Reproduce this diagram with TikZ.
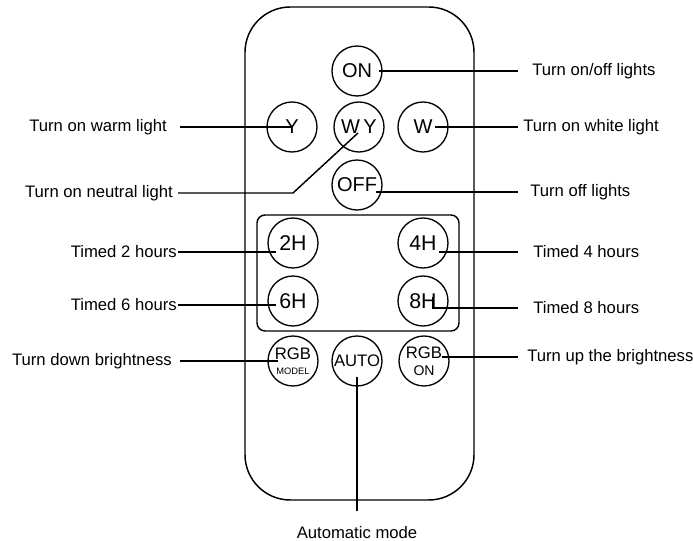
\documentclass[tikz,border=0pt]{standalone}
\usepackage{fontspec}
\setmainfont{Liberation Sans}
\usetikzlibrary{calc}

\begin{document}
\begin{tikzpicture}[x=0.75pt, y=-0.75pt,
    btn/.style={draw, circle, line width=1pt, minimum size=37.5pt, inner sep=0pt, align=center, font=\fontsize{15}{15}\selectfont},
    lbl/.style={inner sep=0pt, font=\fontsize{12.5}{14}\selectfont},
    lead/.style={line width=1.1pt},
]
\useasboundingbox (0,0) rectangle (693,541);

% Remote body and timer group
\draw[line width=1.1pt, rounded corners=34pt] (245,7) rectangle (474,500);
\draw[line width=1.1pt, rounded corners=6pt] (257,215) rectangle (459,331);

% Buttons
\node[btn] (on) at (357,71) {ON};
\node[btn] (y) at (292,127) {Y};
\node[btn] (wy) at (359,127) {W\,Y};
\node[btn] (w) at (423,127) {W};
\node[btn] (off) at (357,185) {OFF};
\node[btn, font=\fontsize{16}{16}\selectfont] (h2) at (293,243) {2H};
\node[btn, font=\fontsize{16}{16}\selectfont] (h4) at (423,243) {4H};
\node[btn, font=\fontsize{16}{16}\selectfont] (h6) at (293,301) {6H};
\node[btn, font=\fontsize{16}{16}\selectfont] (h8) at (423,301) {8H};
\node[btn, font=\fontsize{12.5}{10}\selectfont] (rgbm) at (293,361) {RGB\\[1pt]{\fontsize{7}{7}\selectfont MODEL}};
\node[btn, font=\fontsize{12.5}{12}\selectfont] (auto) at (357,361) {AUTO};
\node[btn, font=\fontsize{12.5}{10}\selectfont] (rgbon) at (424,361) {RGB\\[3pt]{\fontsize{10.5}{10}\selectfont ON}};

% Left labels
\node[lbl, anchor=east] (lwarm) at (167,127) {Turn on warm light};
\node[lbl, anchor=east] (lneutral) at (173,193) {Turn on neutral light};
\node[lbl, anchor=east] (l2) at (177,252) {Timed 2 hours};
\node[lbl, anchor=east] (l6) at (177,305) {Timed 6 hours};
\node[lbl, anchor=east] (ldown) at (172,361) {Turn down brightness};

% Right labels
\node[lbl, anchor=west] (lon) at (532,71) {Turn on/off lights};
\node[lbl, anchor=west] (lwhite) at (523,127) {Turn on white light};
\node[lbl, anchor=west] (loff) at (530,192) {Turn off lights};
\node[lbl, anchor=west] (l4) at (533,252) {Timed 4 hours};
\node[lbl, anchor=west] (l8) at (533,308) {Timed 8 hours};
\node[lbl, anchor=west] (lup) at (527,357) {Turn up the brightness};
\node[lbl] (lauto) at (357,533) {Automatic mode};

% Leader lines
\draw[lead] ($(lwarm.east)+(13,0)$) -- (y.center);
\draw[lead] ($(lneutral.east)+(5,0)$) -- (293,193) -- ($(wy.center)+(-1,6)$);
\draw[lead] ($(l2.east)+(1,0)$) -- ($(h2.center)+(-17,9)$);
\draw[lead] ($(l6.east)+(1,0)$) -- ($(h6.center)+(-17,4)$);
\draw[lead] ($(ldown.east)+(8,0)$) -- ($(rgbm.center)+(-15,0)$);
\draw[lead] ($(on.center)+(22,0)$) -- ($(lon.west)+(-14,0)$);
\draw[lead] ($(w.center)+(12,0)$) -- ($(lwhite.west)+(-5,0)$);
\draw[lead] ($(off.center)+(19,7)$) -- ($(loff.west)+(-12,0)$);
\draw[lead] ($(h4.center)+(16,9)$) -- ($(l4.west)+(-15,0)$);
\draw[lead] ($(h8.center)+(10,-4)$) -- ($(h8.center)+(10,7)$) -- ($(l8.west)+(-15,0)$);
\draw[lead] ($(rgbon.center)+(18,-4)$) -- ($(lup.west)+(-9,0)$);
\draw[lead] ($(auto.center)+(0,16)$) -- ($(lauto.north)+(0,-16)$);
\end{tikzpicture}
\end{document}
